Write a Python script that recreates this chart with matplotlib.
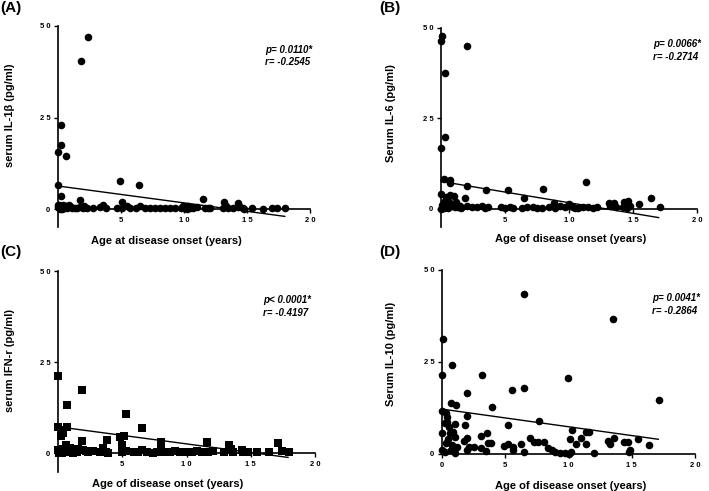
import matplotlib
matplotlib.use("Agg")
import matplotlib.pyplot as plt

plt.rcParams['font.family'] = ['Liberation Sans', 'DejaVu Sans']

# ---------------- data ----------------
# Panel A: serum IL-1beta
a_x = [2.4, 1.8, 0.2, 0.2, 0.0, 0.6, 0.0, 0.25, 1.75, 4.9, 6.4, 5.1, 11.5, 13.2, 14.3,
       0.0, 0.0, 0.05, 0.1, 0.2, 0.3, 0.4, 0.5, 0.6, 0.8, 0.9, 1.1, 1.35, 1.75, 2.0, 2.1,
       2.8, 3.3, 3.6, 3.8, 4.7, 5.05, 5.45, 5.7, 6.2, 6.5, 6.9, 7.3, 7.7, 8.1, 8.5, 8.9,
       9.3, 9.8, 9.9, 10.1, 10.3, 10.5, 10.7, 11.0, 11.7, 11.9, 12.1, 13.1, 13.5, 13.9,
       14.3, 14.7, 15.4, 16.3, 16.96, 17.4, 18.0, 0.15, 0.35, 0.7, 1.0, 1.5, 2.3, 10.0,
       10.2, 10.6, 13.3, 14.4, 14.8]
a_y = [47.0, 40.5, 23.0, 17.5, 15.5, 14.6, 6.5, 3.7, 2.5, 7.7, 6.5, 2.0, 2.8, 1.8, 1.6,
       0.5, 1.2, 0.2, 1.0, 0.3, 0.8, 1.2, 0.2, 0.9, 0.5, 1.1, 0.3, 0.4, 0.6, 0.3, 0.8,
       0.2, 0.5, 1.0, 0.3, 0.4, 0.2, 0.7, 0.4, 0.3, 0.8, 0.4, 0.2, 0.3, 0.2, 0.3, 0.2,
       0.3, 0.2, 0.8, 0.5, 0.9, 0.4, 0.3, 0.5, 0.2, 0.3, 0.2, 0.4, 0.3, 0.2,
       0.5, 0.3, 0.2, 0.1, 0.2, 0.2, 0.2, 0.0, 0.1, 0.3, 0.6, 0.2, 0.3, 0.2,
       0.1, 0.6, 0.9, 0.8, 0.1]
a_fit_x = [0.0, 18.0]
a_fit_y = [6.3, -2.0]

# Panel B: serum IL-6
b_x = [0.0, 0.1, 0.3, 2.0, 0.3, 0.0,
       0.2, 0.7, 0.7, 2.0, 3.5, 5.2, 8.0, 11.3, 6.5, 16.4, 17.1, 0.0, 0.4, 0.7, 1.0, 1.9,
       0.2, 0.6, 1.2, 13.1, 13.5, 14.3, 14.6, 15.5, 8.8, 10.0, 0.1, 0.5, 0.9,
       0.05, 0.31, 0.57, 0.83, 1.09, 1.35, 1.6, 2.0, 2.4, 2.8, 3.2, 3.4, 3.7, 4.7, 5.0,
       5.4, 5.6, 6.3, 6.7, 7.2, 7.5, 7.9, 8.4, 8.9, 9.3, 9.7, 10.1, 10.3, 10.7, 11.1,
       11.5, 11.9, 13.2, 13.7, 14.2, 14.5, 0.0, 0.2, 0.45, 1.5, 10.5, 12.2, 14.8]
b_y = [46.3, 47.8, 37.5, 45.0, 20.0, 16.7,
       8.3, 8.0, 7.1, 6.4, 5.2, 5.1, 5.5, 7.4, 2.9, 2.9, 0.4, 4.0, 3.4, 3.9, 3.7, 2.9,
       2.0, 1.8, 2.0, 1.6, 1.6, 1.8, 2.2, 1.4, 1.5, 1.3, 1.2, 2.8, 1.2,
       0.2, 0.5, 0.3, 0.8, 0.4, 0.6, 0.3, 0.9, 0.4, 0.5, 0.7, 0.3, 0.6, 0.4, 0.2,
       0.5, 0.3, 0.2, 0.4, 0.6, 0.3, 0.2, 0.5, 0.3, 0.8, 0.4, 0.9, 0.5, 0.3, 0.6,
       0.4, 0.2, 0.8, 0.4, 0.5, 0.3, 0.0, 0.3, 0.6, 0.8, 0.2, 0.5, 0.9]
b_fit_x = [0.0, 17.0]
b_fit_y = [7.6, -2.4]

# Panel C: serum IFN-gamma
c_x = [0.0, 1.9, 0.7, 5.3, 6.5, 0.0, 0.7, 0.3, 0.4, 0.2, 4.8, 5.1, 8.0, 8.0, 11.6, 17.1,
       1.9, 3.8, 0.6, 4.95, 13.3, 3.5, 0.9,
       0.0, 0.16, 0.41, 0.8, 1.06, 1.32, 1.58, 1.97, 2.36, 2.75, 3.3, 3.5, 3.9, 4.95,
       5.3, 5.9, 6.25, 6.5, 6.9, 7.4, 7.7, 8.3, 8.7, 9.1, 9.5, 10.0, 10.4, 10.8, 11.2,
       11.7, 12.1, 12.9, 13.4, 13.6, 14.3, 14.8, 15.5, 16.4, 17.4, 18.0,
       0.05, 0.3, 0.5, 1.2, 1.5, 2.2, 3.7, 13.5, 14.4]
c_y = [21.2, 17.5, 13.4, 10.9, 6.9, 7.3, 7.3, 6.3, 5.6, 4.9, 4.6, 4.9, 3.1, 2.2, 3.1, 2.8,
       3.3, 3.6, 2.3, 2.2, 2.2, 1.5, 1.5,
       1.0, 0.5, 1.2, 0.3, 0.8, 0.6, 1.1, 0.9, 0.4, 0.7, 0.3, 1.0, 0.2, 0.4,
       0.6, 0.3, 0.5, 0.9, 0.4, 0.2, 0.5, 0.3, 0.4, 0.6, 0.3, 0.5, 0.4, 0.6, 0.3,
       0.4, 0.6, 0.3, 0.9, 0.5, 0.8, 0.3, 0.3, 0.5, 0.6, 0.3,
       0.2, 0.1, 0.4, 0.2, 0.3, 0.6, 0.4, 1.3, 0.4]
c_fit_x = [0.0, 17.9]
c_fit_y = [7.3, -1.1]

# Panel D: serum IL-10
d_x = [6.5, 13.5, 0.05, 0.76, 0.0, 3.16, 9.93, 5.56, 6.5, 1.98, 17.15, 0.73, 1.08, 3.95,
       0.0, 0.3, 0.4, 1.98, 7.64, 1.03, 0.4, 1.85, 5.24, 0.55, 3.53, 3.08, 0.0, 10.3,
       11.4, 11.6, 0.6, 1.0, 6.96, 11.0, 10.1, 1.98, 15.5, 13.6, 13.1, 13.3, 7.3, 7.6,
       8.1, 14.4, 14.7, 16.4, 11.4, 10.6, 4.93, 5.24, 5.6, 3.66, 3.87, 1.7, 2.1, 2.55,
       6.24, 14.9, 14.8, 8.4, 8.7, 8.9, 9.3, 9.7, 10.2, 12.0, 6.5, 3.5, 3.1, 0.0, 0.2,
       0.7, 1.2, 2.0, 5.6, 10.0, 0.3, 0.5, 0.9, 0.2, 0.8, 1.0]
d_y = [43.5, 36.7, 31.2, 24.2, 21.4, 21.4, 20.7, 17.4, 17.8, 16.5, 14.7, 13.9, 13.3, 12.9,
       11.8, 11.2, 10.1, 10.4, 9.0, 8.2, 8.8, 7.9, 7.8, 7.4, 5.6, 5.0, 5.6, 6.5,
       6.1, 6.1, 5.7, 4.6, 4.4, 4.4, 4.1, 4.3, 4.0, 4.4, 3.5, 2.8, 3.2, 3.2,
       3.2, 3.2, 3.2, 2.5, 2.6, 2.6, 2.2, 2.7, 2.0, 2.9, 2.9, 3.4, 2.0, 2.0,
       2.7, 1.1, 0.6, 1.5, 1.1, 0.6, 0.4, 0.2, 0.6, 0.4, 0.6, 0.8, 1.5, 1.1, 0.6,
       1.1, 2.0, 1.1, 1.1, 0.0, 3.0, 4.0, 6.0, 8.5, 2.5, 0.3]
d_fit_x = [0.0, 17.1]
d_fit_y = [12.2, 4.0]

panel_labels = ["(A)", "(B)", "(C)", "(D)"]
y_labels = ["serum IL-1\u03b2 (pg/ml)", "Serum IL-6 (pg/ml)",
            "serum IFN-r (pg/ml)", "Serum IL-10 (pg/ml)"]
x_labels = ["Age at disease onset (years)", "Age of disease onset (years)",
            "Age of disease onset (years)", "Age of disease onset (years)"]
p_texts = ["p= 0.0110*", "p= 0.0066*", "p< 0.0001*", "p= 0.0041*"]
r_texts = ["r= -0.2545", "r= -0.2714", "r= -0.4197", "r= -0.2864"]
y_ticks = [0, 25, 50]
y_tick_labels = ["0", "2 5", "5 0"]
x_ticks_abc = [5, 10, 15, 20]
x_tick_labels_abc = ["5", "1 0", "1 5", "2 0"]
x_ticks_d = [0, 5, 10, 15, 20]
x_tick_labels_d = ["0", "5", "1 0", "1 5", "2 0"]

# ---------------- figure ----------------
W, H = 709, 491
fig = plt.figure(figsize=(W / 100, H / 100), dpi=100)


def px_axes(l, r, t, b):
    return fig.add_axes([l / W, 1 - b / H, (r - l) / W, (b - t) / H])


def ftext(x, y, s, **kw):
    fig.text(x / W, 1 - y / H, s, **kw)


specs = [
    dict(box=(58, 310, 26, 227), ylim=(-4.9, 50), x=a_x, y=a_y, m='o',
         xt=(x_ticks_abc, x_tick_labels_abc), fx=a_fit_x, fy=a_fit_y,
         xl=(0.429, -0.07), yl=(-0.19, 0.557), ann=(265, 50, 62), pl=(0, 8)),
    dict(box=(441, 697, 28, 227), ylim=(-5.0, 50), x=b_x, y=b_y, m='o',
         xt=(x_ticks_abc, x_tick_labels_abc), fx=b_fit_x, fy=b_fit_y,
         xl=(0.508, -0.06), yl=(-0.195, 0.573), ann=(653, 44, 57), pl=(379, 8)),
    dict(box=(58, 315, 271, 472), ylim=(-5.1, 50), x=c_x, y=c_y, m='s',
         xt=(x_ticks_abc, x_tick_labels_abc), fx=c_fit_x, fy=c_fit_y,
         xl=(0.428, -0.061), yl=(-0.187, 0.553), ann=(263, 300, 313), pl=(0, 252)),
    dict(box=(442, 695, 270, 454), ylim=(0, 50), x=d_x, y=d_y, m='o',
         xt=(x_ticks_d, x_tick_labels_d), fx=d_fit_x, fy=d_fit_y,
         xl=(0.51, -0.174), yl=(-0.2, 0.543), ann=(652, 298, 311), pl=(379, 252)),
]

for i, sp in enumerate(specs):
    ax = px_axes(*sp['box'])
    ax.set_xlim(0, 20)
    ax.set_ylim(*sp['ylim'])
    ax.scatter(sp['x'], sp['y'], marker=sp['m'], s=30 if sp['m'] == 'o' else 30,
               color='black', linewidths=0, clip_on=False, zorder=3)
    ax.plot(sp['fx'], sp['fy'], color='black', lw=1.0, zorder=2, clip_on=False)
    for s in ('top', 'right'):
        ax.spines[s].set_visible(False)
    ax.spines['bottom'].set_position(('data', 0))
    for s in ('left', 'bottom'):
        ax.spines[s].set_linewidth(1.2)
    ax.set_yticks(y_ticks)
    ax.set_yticklabels(y_tick_labels)
    ax.set_xticks(sp['xt'][0])
    ax.set_xticklabels(sp['xt'][1])
    ax.tick_params(axis='both', direction='out', length=3, width=1.0, labelsize=5.5, pad=2.5)
    for lab in ax.get_xticklabels() + ax.get_yticklabels():
        lab.set_fontweight('bold')
    ax.set_xlabel(x_labels[i], fontsize=8, fontweight='bold', va='center', ha='center')
    ax.xaxis.set_label_coords(*sp['xl'])
    ax.set_ylabel(y_labels[i], fontsize=8, fontweight='bold', va='center', ha='center')
    ax.yaxis.set_label_coords(*sp['yl'])
    ax.patch.set_visible(False)
    ax_x, y1, y2 = sp['ann']
    ftext(ax_x, y1, p_texts[i], fontsize=7, fontweight='bold', fontstyle='italic',
          ha='left', va='center')
    ftext(ax_x, y2, r_texts[i], fontsize=7, fontweight='bold', fontstyle='italic',
          ha='left', va='center')
    ftext(sp['pl'][0], sp['pl'][1], panel_labels[i], fontsize=11, fontweight='bold',
          ha='left', va='center')

fig.savefig("out.png", dpi=100)
